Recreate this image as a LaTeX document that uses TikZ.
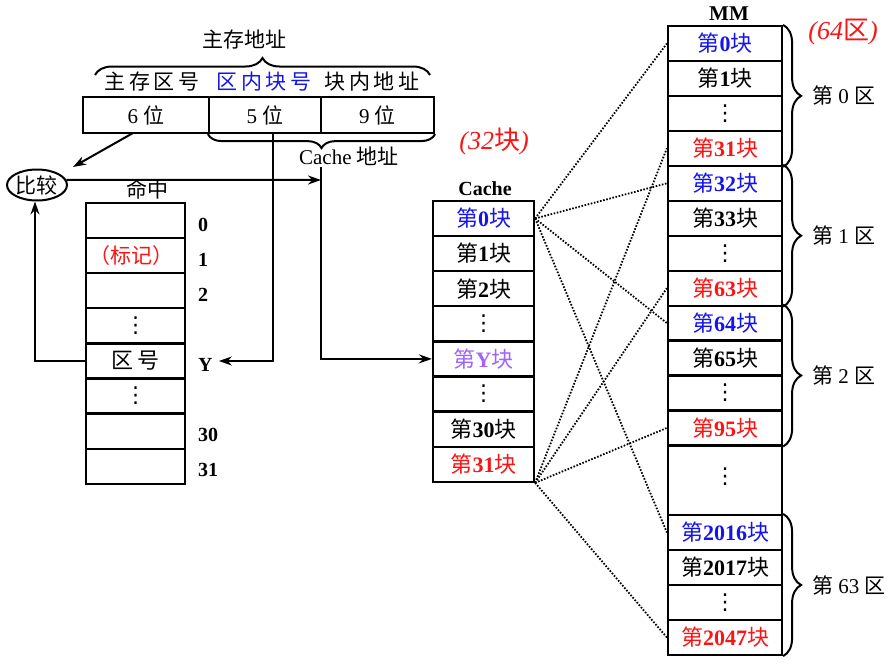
\documentclass[tikz,border=0pt]{standalone}
\usepackage{fontspec}
\setmainfont{Liberation Serif}
\newfontfamily\cjk{Noto Sans CJK SC}
\newfontfamily\djv{DejaVu Sans}
\usetikzlibrary{arrows.meta,shapes.geometric,decorations.pathreplacing,calc}
\newcommand\zh[1]{{\cjk #1}}
\newcommand\blk[1]{\zh{第}\textbf{#1}\zh{块}}
\newcommand\vd{{\djv ⋮}}
\definecolor{zblue}{RGB}{20,20,235}
\definecolor{zred}{RGB}{250,20,20}
\definecolor{zpurple}{RGB}{160,100,250}
\tikzset{
  cell/.style={draw, line width=2.2pt, minimum height=35pt, inner sep=0pt, font=\fontsize{22}{24}\selectfont},
  tagcell/.style={cell, minimum width=99pt},
  cachecell/.style={cell, minimum width=101pt},
  mmcell/.style={cell, minimum width=114pt},
  lbl/.style={inner sep=1pt, font=\fontsize{21}{23}\selectfont},
  idx/.style={inner sep=1pt, anchor=west, font=\fontsize{20}{22}\selectfont\bfseries},
  arr/.style={-{Stealth[length=13pt,width=9pt]}, line width=2pt},
  dl/.style={line width=1.8pt, dash pattern=on 1.6pt off 1.6pt},
  brc/.style={decorate, decoration={brace, amplitude=#1}, line width=2pt},
  brc/.default=17pt,
  hand/.style={text=zred, font=\fontsize{26}{28}\selectfont\itshape}
}
\begin{document}
\begin{tikzpicture}[x=1pt,y=-1pt]
\useasboundingbox (0,0) rectangle (895,665);
% ---------- main memory address ----------
\node[lbl] (addr) at (244,40) {\zh{主存地址}};
\node[lbl] (fz) at (152,82) {\zh{主\,存\,区\,号}};
\node[lbl, text=zblue] (fb) at (264,82) {\zh{区\,内\,块\,号}};
\node[lbl] (fo) at (372,82) {\zh{块\,内\,地\,址}};
\node[cell, font=\fontsize{21}{23}\selectfont, minimum width=126pt, minimum height=36pt] (a6) at (146,115) {6 \zh{位}};
\node[cell, font=\fontsize{21}{23}\selectfont, minimum width=112pt, minimum height=36pt] (a5) at (265,115) {5 \zh{位}};
\node[cell, font=\fontsize{21}{23}\selectfont, minimum width=113pt, minimum height=36pt] (a9) at (377.5,115) {9 \zh{位}};
\coordinate (tbl) at (95,75);
\coordinate (tbr) at (430,75);
\draw[brc=17pt] (tbl) -- (tbr);
\draw[brc=14pt] (a9.south east) -- (a5.south west);
\node[lbl] (caddr) at (349,156) {Cache \zh{地址}};
% ---------- compare ----------
\node[ellipse, draw, line width=2pt, minimum width=60pt, minimum height=31pt, inner sep=0pt,
      font=\fontsize{21}{23}\selectfont] (cmp) at (37,185) {\zh{比较}};
\coordinate (s6) at (133,133);
\coordinate (e6) at (73,167);
\draw[arr] (s6) -- (e6);
\node[lbl] (hit) at (147,189) {\zh{命中}};
\coordinate (vtop) at (321,167);
\coordinate (hitend) at (321,180);
\draw[arr] (cmp.10) -- (hitend);
% ---------- tag table ----------
\node[tagcell] (t0) at (135.5,220.5) {};
\node[tagcell, text=zred, font=\fontsize{21}{23}\selectfont] (t1) at (135.5,255.6) {\hspace*{-8pt}\zh{（标记）}};
\node[tagcell] (t2) at (135.5,290.7) {};
\node[tagcell] (t3) at (135.5,325.8) {\vd};
\node[tagcell] (t4) at (135.5,360.9) {\zh{区\,号}};
\node[tagcell] (t5) at (135.5,396.0) {\vd};
\node[tagcell] (t6) at (135.5,431.1) {};
\node[tagcell] (t7) at (135.5,466.2) {};
\node[idx] (l0) at (197,225) {0};
\node[idx] (l1) at (197,260) {1};
\node[idx] (l2) at (197,295) {2};
\node[idx] (lY) at (197,365) {Y};
\node[idx] (l30) at (197,435) {30};
\node[idx] (l31) at (197,470) {31};
% 5-bit block number to tag row Y
\coordinate (s5) at (273,133);
\coordinate (b5) at (273,361);
\draw[arr] (s5) -- (b5) -- ([xshift=5pt]lY.east |- b5);
% tag to compare
\draw[arr] (t4.west) -| ([xshift=-2pt]cmp.south);
% ---------- cache ----------
\node[lbl, font=\fontsize{20}{22}\selectfont\bfseries] (clab) at (485,189) {Cache};
\node[cachecell, text=zblue] (c0) at (483.5,218.5) {\blk{0}};
\node[cachecell] (c1) at (483.5,253.6) {\blk{1}};
\node[cachecell] (c2) at (483.5,288.7) {\blk{2}};
\node[cachecell] (c3) at (483.5,323.8) {\vd};
\node[cachecell, text=zpurple] (cY) at (483.5,358.9) {\blk{Y}};
\node[cachecell] (c5) at (483.5,394.0) {\vd};
\node[cachecell] (c6) at (483.5,429.1) {\blk{30}};
\node[cachecell, text=zred] (c7) at (483.5,464.2) {\blk{31}};
\draw[arr] (vtop) |- (cY.west);
% ---------- main memory ----------
\node[lbl, font=\fontsize{21}{23}\selectfont\bfseries] (mlab) at (729,14) {MM};
\node[mmcell, text=zblue] (m0) at (725,43.5) {\blk{0}};
\node[mmcell] (m1) at (725,78.4) {\blk{1}};
\node[mmcell] (m2) at (725,113.4) {\vd};
\node[mmcell, text=zred] (m3) at (725,148.3) {\blk{31}};
\node[mmcell, text=zblue] (m4) at (725,183.3) {\blk{32}};
\node[mmcell] (m5) at (725,218.2) {\blk{33}};
\node[mmcell] (m6) at (725,253.2) {\vd};
\node[mmcell, text=zred] (m7) at (725,288.1) {\blk{63}};
\node[mmcell, text=zblue] (m8) at (725,323.1) {\blk{64}};
\node[mmcell] (m9) at (725,358.0) {\blk{65}};
\node[mmcell] (m10) at (725,393.0) {\vd};
\node[mmcell, text=zred] (m11) at (725,427.9) {\blk{95}};
\node[mmcell, minimum height=70pt] (mg) at (725,480) {\raisebox{8pt}{\vd}};
\node[mmcell, text=zblue] (m12) at (725,532.5) {\blk{2016}};
\node[mmcell] (m13) at (725,567.5) {\blk{2017}};
\node[mmcell] (m14) at (725,602.5) {\vd};
\node[mmcell, text=zred] (m15) at (725,637.5) {\blk{2047}};
% braces for areas
\draw[brc=18pt] (m0.north east) -- (m3.south east);
\draw[brc=18pt] (m4.north east) -- (m7.south east);
\draw[brc=18pt] (m8.north east) -- (m11.south east);
\draw[brc=18pt] (m12.north east) -- (m15.south east);
\node[lbl, anchor=west] (z0) at (811,95.9) {\zh{第} 0 \zh{区}};
\node[lbl, anchor=west] (z1) at (811,235.7) {\zh{第} 1 \zh{区}};
\node[lbl, anchor=west] (z2) at (811,375.5) {\zh{第} 2 \zh{区}};
\node[lbl, anchor=west] (z63) at (811,585) {\zh{第} 63 \zh{区}};
% ---------- mapping lines ----------
\draw[dl] (c0.east) -- (m0.west);
\draw[dl] (c0.east) -- (m4.west);
\draw[dl] (c0.east) -- (m8.west);
\draw[dl] (c0.east) -- (m12.west);
\draw[dl] (c7.south east) -- (m3.west);
\draw[dl] (c7.south east) -- (m7.west);
\draw[dl] (c7.south east) -- (m11.west);
\draw[dl] (c7.south east) -- (m15.west);
% ---------- handwritten notes ----------
\node[hand] (n32) at (494,141) {(32\zh{块})};
\node[hand] (n64) at (843,32) {(64\zh{区})};
\end{tikzpicture}
\end{document}
